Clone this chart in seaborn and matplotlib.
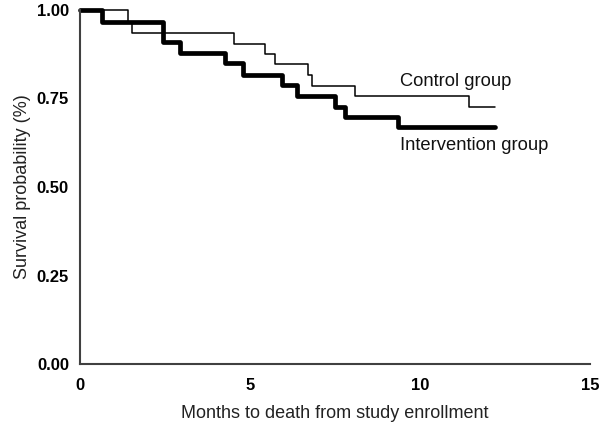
import matplotlib
matplotlib.use("Agg")
import matplotlib.pyplot as plt
import seaborn as sns
import pandas as pd

# Kaplan-Meier step data (time in months, survival probability)
control_t = [0.0, 1.42, 1.54, 4.53, 5.44, 5.74, 6.71, 6.81, 8.09, 11.45, 12.2]
control_s = [1.0, 0.967, 0.935, 0.904, 0.875, 0.847, 0.816, 0.785, 0.757, 0.727, 0.727]
interv_t = [0.0, 0.66, 2.45, 2.94, 4.26, 4.80, 5.93, 6.37, 7.50, 7.79, 9.35, 12.2]
interv_s = [1.0, 0.967, 0.909, 0.878, 0.850, 0.816, 0.788, 0.757, 0.725, 0.697, 0.669, 0.669]
x_ticks = [0, 5, 10, 15]
y_ticks = [0.00, 0.25, 0.50, 0.75, 1.00]
y_tick_labels = ["0.00", "0.25", "0.50", "0.75", "1.00"]

sns.set_theme(style="white")
plt.rcParams['font.family'] = ['Liberation Sans', 'DejaVu Sans']

fig = plt.figure(figsize=(6.0, 4.26), dpi=100)
ax = fig.add_axes([80/600, 1-364/426, 510/600, 354/426])

df_c = pd.DataFrame({"t": control_t, "s": control_s})
df_i = pd.DataFrame({"t": interv_t, "s": interv_s})

sns.lineplot(data=df_c, x="t", y="s", ax=ax, drawstyle="steps-post",
             estimator=None, color="black", linewidth=1.1, clip_on=False)
sns.lineplot(data=df_i, x="t", y="s", ax=ax, drawstyle="steps-post",
             estimator=None, color="black", linewidth=3.4, clip_on=False)

ax.set_xlim(0, 15)
ax.set_ylim(0, 1)
ax.set_xticks(x_ticks)
ax.set_xticklabels([str(v) for v in x_ticks], fontweight="bold", fontsize=12)
ax.set_yticks(y_ticks)
ax.set_yticklabels(y_tick_labels, fontweight="bold", fontsize=12)

for side in ["top", "right"]:
    ax.spines[side].set_visible(False)
for side in ["left", "bottom"]:
    ax.spines[side].set_color("#404040")
    ax.spines[side].set_linewidth(1.5)
ax.tick_params(axis="both", direction="out", length=4, width=1.2,
               color="#404040", labelcolor="black", pad=4)
ax.tick_params(axis="x", pad=6)

ax.set_xlabel("Months to death from study enrollment", fontsize=13, labelpad=9,
              color="#222222")
ax.set_ylabel("Survival probability (%)", fontsize=13, labelpad=4,
              color="#222222")

ax.text(9.4, 0.798, "Control group", fontsize=13.2, va="center", ha="left",
        color="#111111")
ax.text(9.4, 0.617, "Intervention group", fontsize=13.2, va="center", ha="left",
        color="#111111")

fig.savefig("out.png", dpi=100)
